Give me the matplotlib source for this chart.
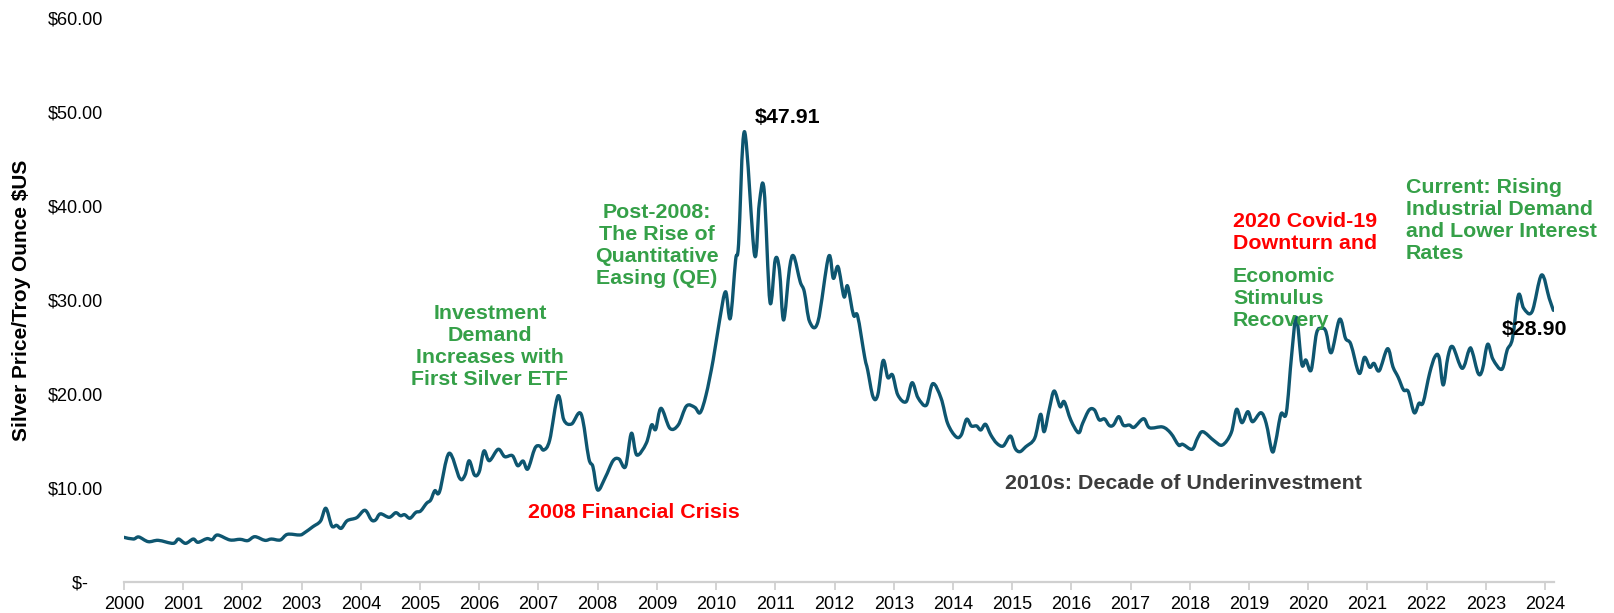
import numpy as np
import matplotlib.pyplot as plt
from matplotlib.path import Path
from matplotlib.patches import PathPatch
from matplotlib.ticker import FuncFormatter

plt.rcParams['font.family'] = ['Liberation Sans', 'DejaVu Sans']

# positions on the year axis and silver price ($/oz)
dates = [2000.00, 2000.16, 2000.25, 2000.41, 2000.58, 2000.83, 2000.92, 2001.04, 2001.17, 2001.25,
         2001.40, 2001.49, 2001.58, 2001.79, 2001.96, 2002.09, 2002.21, 2002.38, 2002.49, 2002.64,
         2002.76, 2002.97, 2003.05, 2003.19, 2003.32, 2003.41, 2003.51, 2003.59, 2003.67, 2003.77,
         2003.93, 2004.07, 2004.18, 2004.25, 2004.33, 2004.48, 2004.59, 2004.67, 2004.74, 2004.83,
         2004.93, 2005.01, 2005.11, 2005.18, 2005.25, 2005.33, 2005.49, 2005.67, 2005.76, 2005.83,
         2005.92, 2006.00, 2006.08, 2006.17, 2006.32, 2006.43, 2006.56, 2006.65, 2006.74, 2006.82,
         2006.94, 2007.02, 2007.09, 2007.19, 2007.33, 2007.43, 2007.56, 2007.72, 2007.85, 2007.92,
         2008.00, 2008.13, 2008.26, 2008.36, 2008.47, 2008.57, 2008.66, 2008.82, 2008.91, 2008.98,
         2009.07, 2009.22, 2009.36, 2009.50, 2009.64, 2009.73, 2009.83, 2009.95, 2010.06, 2010.16,
         2010.24, 2010.33, 2010.38, 2010.48, 2010.65, 2010.73, 2010.81, 2010.91, 2011.00, 2011.07,
         2011.14, 2011.24, 2011.31, 2011.42, 2011.49, 2011.58, 2011.72, 2011.90, 2011.98, 2012.06,
         2012.16, 2012.22, 2012.32, 2012.39, 2012.51, 2012.56, 2012.65, 2012.73, 2012.82, 2012.90,
         2012.98, 2013.07, 2013.21, 2013.31, 2013.41, 2013.55, 2013.66, 2013.80, 2013.91, 2014.05,
         2014.14, 2014.23, 2014.31, 2014.40, 2014.47, 2014.55, 2014.64, 2014.74, 2014.85, 2014.97,
         2015.05, 2015.13, 2015.23, 2015.38, 2015.48, 2015.54, 2015.63, 2015.71, 2015.81, 2015.88,
         2015.99, 2016.12, 2016.19, 2016.30, 2016.39, 2016.47, 2016.56, 2016.64, 2016.71, 2016.80,
         2016.88, 2016.98, 2017.06, 2017.22, 2017.32, 2017.54, 2017.68, 2017.81, 2017.88, 2018.04,
         2018.13, 2018.22, 2018.41, 2018.55, 2018.70, 2018.79, 2018.88, 2018.98, 2019.06, 2019.20,
         2019.29, 2019.39, 2019.45, 2019.54, 2019.63, 2019.72, 2019.80, 2019.89, 2019.96, 2020.05,
         2020.14, 2020.23, 2020.30, 2020.39, 2020.53, 2020.63, 2020.72, 2020.86, 2020.95, 2021.04,
         2021.11, 2021.20, 2021.34, 2021.43, 2021.52, 2021.61, 2021.69, 2021.79, 2021.87, 2021.94,
         2022.05, 2022.14, 2022.21, 2022.28, 2022.36, 2022.44, 2022.60, 2022.72, 2022.77, 2022.87,
         2022.94, 2023.03, 2023.12, 2023.27, 2023.36, 2023.45, 2023.55, 2023.64, 2023.78, 2023.94,
         2024.07, 2024.14]
prices = [4.75, 4.57, 4.79, 4.29, 4.43, 4.11, 4.57, 4.11, 4.57, 4.22,
          4.61, 4.50, 5.00, 4.47, 4.54, 4.40, 4.82, 4.43, 4.57, 4.47,
          5.07, 5.00, 5.24, 5.88, 6.49, 7.84, 5.96, 6.03, 5.71, 6.52,
          6.84, 7.63, 6.60, 6.60, 7.25, 6.88, 7.37, 7.05, 7.16, 6.78,
          7.41, 7.55, 8.37, 8.72, 9.71, 9.61, 13.69, 11.03, 11.38, 12.90,
          11.38, 11.73, 13.94, 12.90, 14.12, 13.33, 13.44, 12.37, 12.87, 12.02,
          14.22, 14.47, 14.04, 15.10, 19.79, 17.23, 16.81, 17.87, 13.16, 12.27,
          9.79, 11.14, 12.90, 13.09, 12.27, 15.82, 13.51, 14.75, 16.70, 16.24,
          18.48, 16.35, 16.70, 18.72, 18.58, 18.01, 19.89, 23.60, 27.87, 30.88,
          28.05, 34.26, 35.96, 47.91, 34.79, 40.29, 41.78, 29.78, 34.33, 33.19,
          27.87, 33.37, 34.68, 31.95, 30.88, 27.69, 27.69, 34.61, 32.31, 33.54,
          30.35, 31.49, 28.40, 28.30, 23.90, 22.55, 19.71, 19.89, 23.55, 21.75,
          22.02, 19.89, 19.18, 21.20, 19.60, 18.80, 21.10, 19.54, 16.88, 15.46,
          15.64, 17.31, 16.60, 16.60, 16.17, 16.78, 15.64, 14.76, 14.47, 15.53,
          14.22, 13.86, 14.39, 15.29, 17.84, 15.99, 18.48, 20.32, 18.65, 19.18,
          17.23, 15.88, 16.88, 18.30, 18.30, 17.25, 17.35, 16.65, 16.70, 17.59,
          16.67, 16.70, 16.46, 17.37, 16.41, 16.49, 15.82, 14.57, 14.65, 14.12,
          15.29, 15.99, 15.03, 14.57, 15.88, 18.37, 16.95, 18.12, 17.05, 18.01,
          16.88, 13.90, 14.93, 17.87, 18.01, 24.15, 28.16, 23.19, 23.62, 22.55,
          26.46, 26.99, 26.63, 24.40, 27.95, 25.92, 25.29, 22.20, 23.90, 22.84,
          23.26, 22.48, 24.82, 22.90, 21.77, 20.43, 20.25, 18.01, 19.01, 19.08,
          22.20, 23.97, 23.90, 20.96, 23.97, 25.03, 22.73, 24.75, 24.50, 22.20,
          22.55, 25.29, 23.69, 22.63, 24.68, 25.92, 30.53, 29.11, 28.76, 32.66,
          30.18, 28.90]

years = list(range(2000, 2025))
y_ticks = [0, 10, 20, 30, 40, 50, 60]

GREEN = '#35a048'
RED = '#ff0000'
LINE = '#0e5670'

fig = plt.figure(figsize=(16.14, 6.13), dpi=100)
ax = fig.add_axes([0.0768, 0.0506, 0.886, 0.92])

# smoothed line like Excel: cubic bezier segments through the points
pts = np.column_stack([dates, prices])
padded = np.vstack([pts[0], pts, pts[-1]])
verts = [pts[0]]
codes = [Path.MOVETO]
for i in range(len(pts) - 1):
    p0, p1, p2, p3 = padded[i], padded[i + 1], padded[i + 2], padded[i + 3]
    verts += [p1 + (p2 - p0) / 6, p2 - (p3 - p1) / 6, p2]
    codes += [Path.CURVE4] * 3
ax.add_patch(PathPatch(Path(verts, codes), facecolor='none', edgecolor=LINE,
                       linewidth=2.4, joinstyle='round', capstyle='round'))

ax.set_xlim(2000, 2024.15)
ax.set_ylim(0, 60)
ax.set_xticks(years)
ax.set_xticklabels([str(y) for y in years], fontsize=13)
ax.set_yticks(y_ticks)
ax.yaxis.set_major_formatter(FuncFormatter(lambda v, p: '$-   ' if v == 0 else f'${v:.2f}'))
ax.tick_params(axis='y', length=0, labelsize=13, pad=15)
ax.tick_params(axis='x', length=6, width=1.3, color='#d0d0d0', pad=4)

for side in ['top', 'right', 'left']:
    ax.spines[side].set_visible(False)
ax.spines['bottom'].set_color('#d0d0d0')
ax.spines['bottom'].set_linewidth(1.6)

ax.set_ylabel('Silver Price/Troy Ounce $US', fontsize=15, fontweight='bold')
ax.yaxis.set_label_coords(-0.065, 0.5)

tkw = dict(fontsize=15.4, fontweight='bold', linespacing=1.2)
ax.text(2006.18, 25.0, 'Investment\nDemand\nIncreases with\nFirst Silver ETF',
        color=GREEN, ha='center', va='center', **tkw)
ax.text(2008.61, 7.34, '2008 Financial Crisis', color=RED, ha='center', va='center', **tkw)
ax.text(2009.0, 35.8, 'Post-2008:\nThe Rise of\nQuantitative\nEasing (QE)',
        color=GREEN, ha='center', va='center', **tkw)
ax.text(2011.21, 49.4, '$47.91', color='black', ha='center', va='center', **tkw)
ax.text(2018.73, 37.2, '2020 Covid-19\nDownturn and', color=RED, ha='left', va='center', **tkw)
ax.text(2018.73, 30.2, 'Economic\nStimulus\nRecovery', color=GREEN, ha='left', va='center', **tkw)
ax.text(2021.65, 38.5, 'Current: Rising\nIndustrial Demand\nand Lower Interest\nRates',
        color=GREEN, ha='left', va='center', **tkw)
ax.text(2023.27, 26.9, '$28.90', color='black', ha='left', va='center', **tkw)
ax.text(2017.89, 10.5, '2010s: Decade of Underinvestment', color='#3c3c3c',
        ha='center', va='center', **tkw)

plt.savefig('out.png', dpi=100)
